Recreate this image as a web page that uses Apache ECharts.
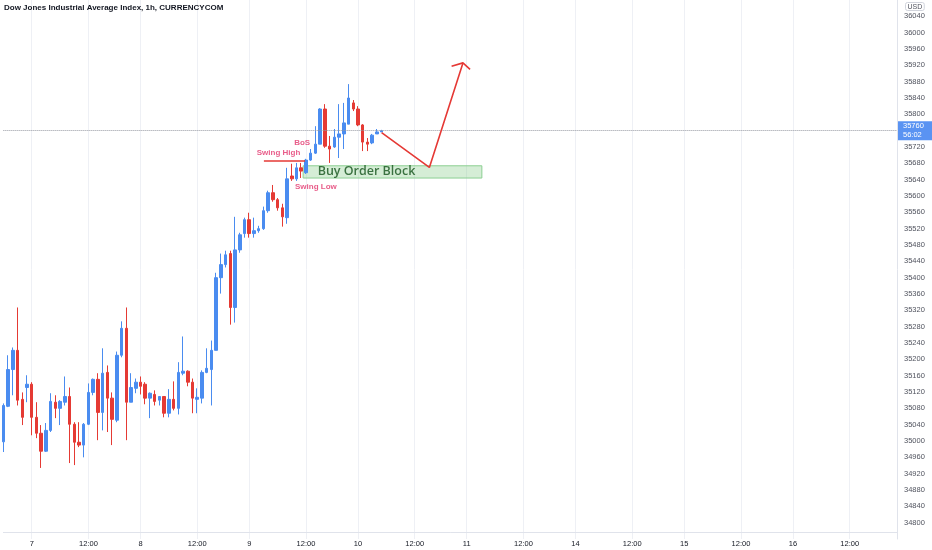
<!DOCTYPE html>
<html>
<head>
<meta charset="utf-8">
<script src="https://cdn.jsdelivr.net/npm/echarts@6/dist/echarts.min.js"></script>
<style>
html,body{margin:0;padding:0;background:#fff;}
#chart{width:932px;height:550px;}
</style>
</head>
<body>
<div id="chart"></div>
<script>
// ---- tick labels / categories ----
const tradingDays = ['6','7','8','9','10','11','14','15','16'];
const hourSlots = ['00:00','01:00','02:00','03:00','04:00','05:00','06:00','07:00','08:00','09:00','10:00','11:00',
                   '12:00','13:00','14:00','15:00','16:00','17:00','18:00','19:00','20:00','21:00','23:00'];
const firstDayStartSlot = 17; // first session begins late on day 6

// ---- candle values (hourly) ----
const opens  = [34998,35085,35175,35222,35102,35131,35139,35058,35019,34975,35026,35095,35080,35095,35109,35041,34997,34990,35041,35119,
                35151,35070,35168,35105,35051,35210,35276,35095,35129,35144,35139,35105,35114,35100,35109,35068,35102,35080,35166,35171,
                35144,35102,35105,35168,35175,35222,35400,35432,35459,35327,35468,35508,35542,35508,35515,35520,35564,35608,35591,35571,
                35547,35649,35642,35669,35657,35688,35705,35727,35813,35722,35720,35744,35752,35776,35828,35813,35774,35732,35730,35752,
                35757];
const closes = [35087,35175,35222,35100,35058,35139,35058,35019,34975,35026,35097,35080,35097,35109,35041,34997,34990,35041,35119,35151,
                35070,35166,35105,35053,35210,35276,35095,35131,35144,35134,35105,35117,35097,35109,35068,35102,35080,35168,35171,35144,
                35105,35107,35168,35178,35222,35400,35432,35456,35327,35468,35505,35542,35508,35515,35520,35564,35608,35591,35571,35549,
                35642,35642,35669,35661,35688,35705,35727,35813,35722,35715,35744,35752,35779,35840,35813,35774,35732,35727,35749,35757,
                35760];
const lows   = [34973,35083,35112,35087,35039,35095,35014,35007,34934,34973,35022,35056,35039,35087,34946,34941,34985,34960,35039,35112,
                35002,35026,35022,34990,35046,35205,35002,35095,35117,35114,35090,35056,35087,35087,35058,35058,35075,35065,35161,35134,
                35068,35068,35092,35166,35087,35222,35361,35425,35285,35290,35461,35498,35498,35498,35510,35517,35559,35586,35564,35525,
                35532,35637,35637,35644,35654,35686,35703,35727,35718,35681,35718,35693,35715,35776,35808,35771,35710,35710,35727,35752,
                35757];
const highs  = [35092,35210,35229,35327,35119,35161,35144,35095,35039,35044,35117,35112,35100,35158,35131,35046,35046,35044,35141,35153,
                35166,35227,35185,35119,35219,35293,35327,35166,35153,35158,35144,35119,35124,35109,35109,35127,35146,35193,35256,35173,
                35153,35129,35173,35227,35246,35412,35459,35466,35466,35549,35510,35547,35559,35547,35527,35574,35613,35627,35595,35581,
                35669,35679,35681,35681,35691,35715,35771,35815,35825,35747,35764,35825,35828,35874,35835,35820,35776,35742,35752,35764,
                35762];
const lastPrice = 35760;
const countdown = '56:02';

// ---- price ticks ----
const priceMin = 34760, priceMax = 36080, priceStep = 40;
const shownLow = 34800, shownHigh = 36040;

// ---- drawn annotations (slot index, price) ----
const swingHighLine = [[55.1, 35686], [63.8, 35686]];
const orderBlock = { fromSlot: 63.4, toSlot: 101.2, low: 35644, high: 35674 };
const orderBlockText = { name: 'Buy Order Block', value: [76.8, 35660] };
const swingNotes = [
  { name: 'Swing High', value: [58.2, 35706] },
  { name: 'BoS', value: [63.2, 35731] },
  { name: 'Swing Low', value: [66.1, 35623] }
];
const arrowPath = [[80.0, 35755], [90.1, 35670], [97.2, 35926]];
const arrowHead = [[94.8, 35918], [97.2, 35926], [98.7, 35910]];

// ---- build categories ----
const categories = [];
const slotHour = [];
tradingDays.forEach((d, di) => {
  const startIdx = di === 0 ? firstDayStartSlot : 0;
  for (let h = startIdx; h < hourSlots.length; h++) {
    categories.push(d + ' ' + hourSlots[h]);
    slotHour.push(hourSlots[h]);
  }
});
const tickSlots = new Set();
slotHour.forEach((h, i) => { if (h === '00:00' || h === '12:00') tickSlots.add(i); });
const slotCount = categories.length;

const candleData = opens.map((o, i) => [o, closes[i], lows[i], highs[i]]);

const UP = '#4a8cf0', DOWN = '#e53a34';
const FONT = 'Liberation Sans, Arial, sans-serif';

const chart = echarts.init(document.getElementById('chart'), null, { renderer: 'canvas' });
chart.setOption({
  animation: false,
  backgroundColor: '#ffffff',
  title: {
    text: 'Dow Jones Industrial Average Index, 1h, CURRENCYCOM',
    left: 4, top: 4, padding: 0,
    textStyle: { fontSize: 8, fontWeight: 'bold', color: '#131722', fontFamily: FONT }
  },
  graphic: [{
    type: 'text', left: 905, top: 2, z: 100,
    style: { text: 'USD', font: '7px ' + FONT, fill: '#50535e', borderColor: '#d1d4dc', borderWidth: 1, borderRadius: 2, padding: [1, 2, 0, 2] }
  }],
  grid: { left: 3.37, right: 35, top: -1, bottom: 11, containLabel: false },
  xAxis: [{
    type: 'category',
    data: categories,
    boundaryGap: false,
    offset: -7,
    axisLine: { show: true, onZero: false, lineStyle: { color: '#e0e3eb' } },
    axisTick: { show: false },
    splitLine: { show: true, interval: (i) => tickSlots.has(i), lineStyle: { color: '#eef0f5', width: 1 } },
    axisLabel: {
      interval: (i) => tickSlots.has(i),
      formatter: (v) => { const p = v.split(' '); return p[1] === '00:00' ? p[0] : p[1]; },
      fontSize: 7.5, color: '#131722', fontFamily: FONT, margin: 8
    }
  }, {
    type: 'value', show: false, min: 0, max: slotCount - 1,
    axisLine: { onZero: false }, splitLine: { show: false }
  }],
  yAxis: [{
    type: 'value', position: 'right',
    min: priceMin, max: priceMax, interval: priceStep,
    axisLine: { show: true, onZero: false, lineStyle: { color: '#e0e3eb' } },
    axisTick: { show: false },
    splitLine: { show: false },
    axisLabel: {
      fontSize: 7.5, color: '#50535e', fontFamily: FONT, margin: 7,
      formatter: (v) => (v < shownLow || v > shownHigh) ? '' : String(v)
    }
  }],
  series: [
    {
      type: 'line', xAxisIndex: 1, yAxisIndex: 0, data: [], silent: true, z: 1,
      markArea: {
        silent: true,
        itemStyle: { color: 'rgba(129,199,132,0.33)', borderColor: '#8ccf92', borderWidth: 1 },
        data: [[{ coord: [orderBlock.fromSlot, orderBlock.high] }, { coord: [orderBlock.toSlot, orderBlock.low] }]]
      }
    },
    {
      type: 'candlestick', name: 'DJI', data: candleData, clip: false, z: 3,
      barWidth: 3,
      itemStyle: { color: UP, color0: DOWN, borderColor: UP, borderColor0: DOWN, borderWidth: 1 },
      markLine: {
        silent: true, symbol: ['none', 'none'], animation: false,
        lineStyle: { color: '#9598a1', type: 'dotted', width: 1 },
        label: {
          show: true, position: 'end', distance: 1,
          formatter: () => lastPrice + '\n' + countdown,
          backgroundColor: '#5a93f2', color: '#ffffff', fontSize: 7.5, lineHeight: 8.5,
          fontFamily: FONT, padding: [1, 9, 1, 5]
        },
        data: [{ yAxis: lastPrice }]
      }
    },
    {
      type: 'line', xAxisIndex: 1, data: swingHighLine, symbol: 'none', z: 4, silent: true,
      lineStyle: { color: '#e53935', width: 1.5 }
    },
    {
      type: 'line', xAxisIndex: 1, data: arrowPath, symbol: 'none', z: 5, silent: true,
      lineStyle: { color: '#e53935', width: 1.6 }
    },
    {
      type: 'line', xAxisIndex: 1, data: arrowHead, symbol: 'none', z: 5, silent: true,
      lineStyle: { color: '#e53935', width: 1.6 }
    },
    {
      type: 'scatter', xAxisIndex: 1, data: swingNotes, symbolSize: 0, z: 6, silent: true,
      label: { show: true, position: 'inside', formatter: '{b}', color: '#e2336b', fontSize: 8, fontWeight: 'bold', fontFamily: FONT }
    },
    {
      type: 'scatter', xAxisIndex: 1, data: [orderBlockText], symbolSize: 0, z: 6, silent: true,
      label: { show: true, position: 'inside', formatter: '{b}', color: '#14521c', fontSize: 12.5, fontWeight: 600, fontFamily: 'Open Sans, ' + FONT }
    }
  ]
});
</script>
</body>
</html>
